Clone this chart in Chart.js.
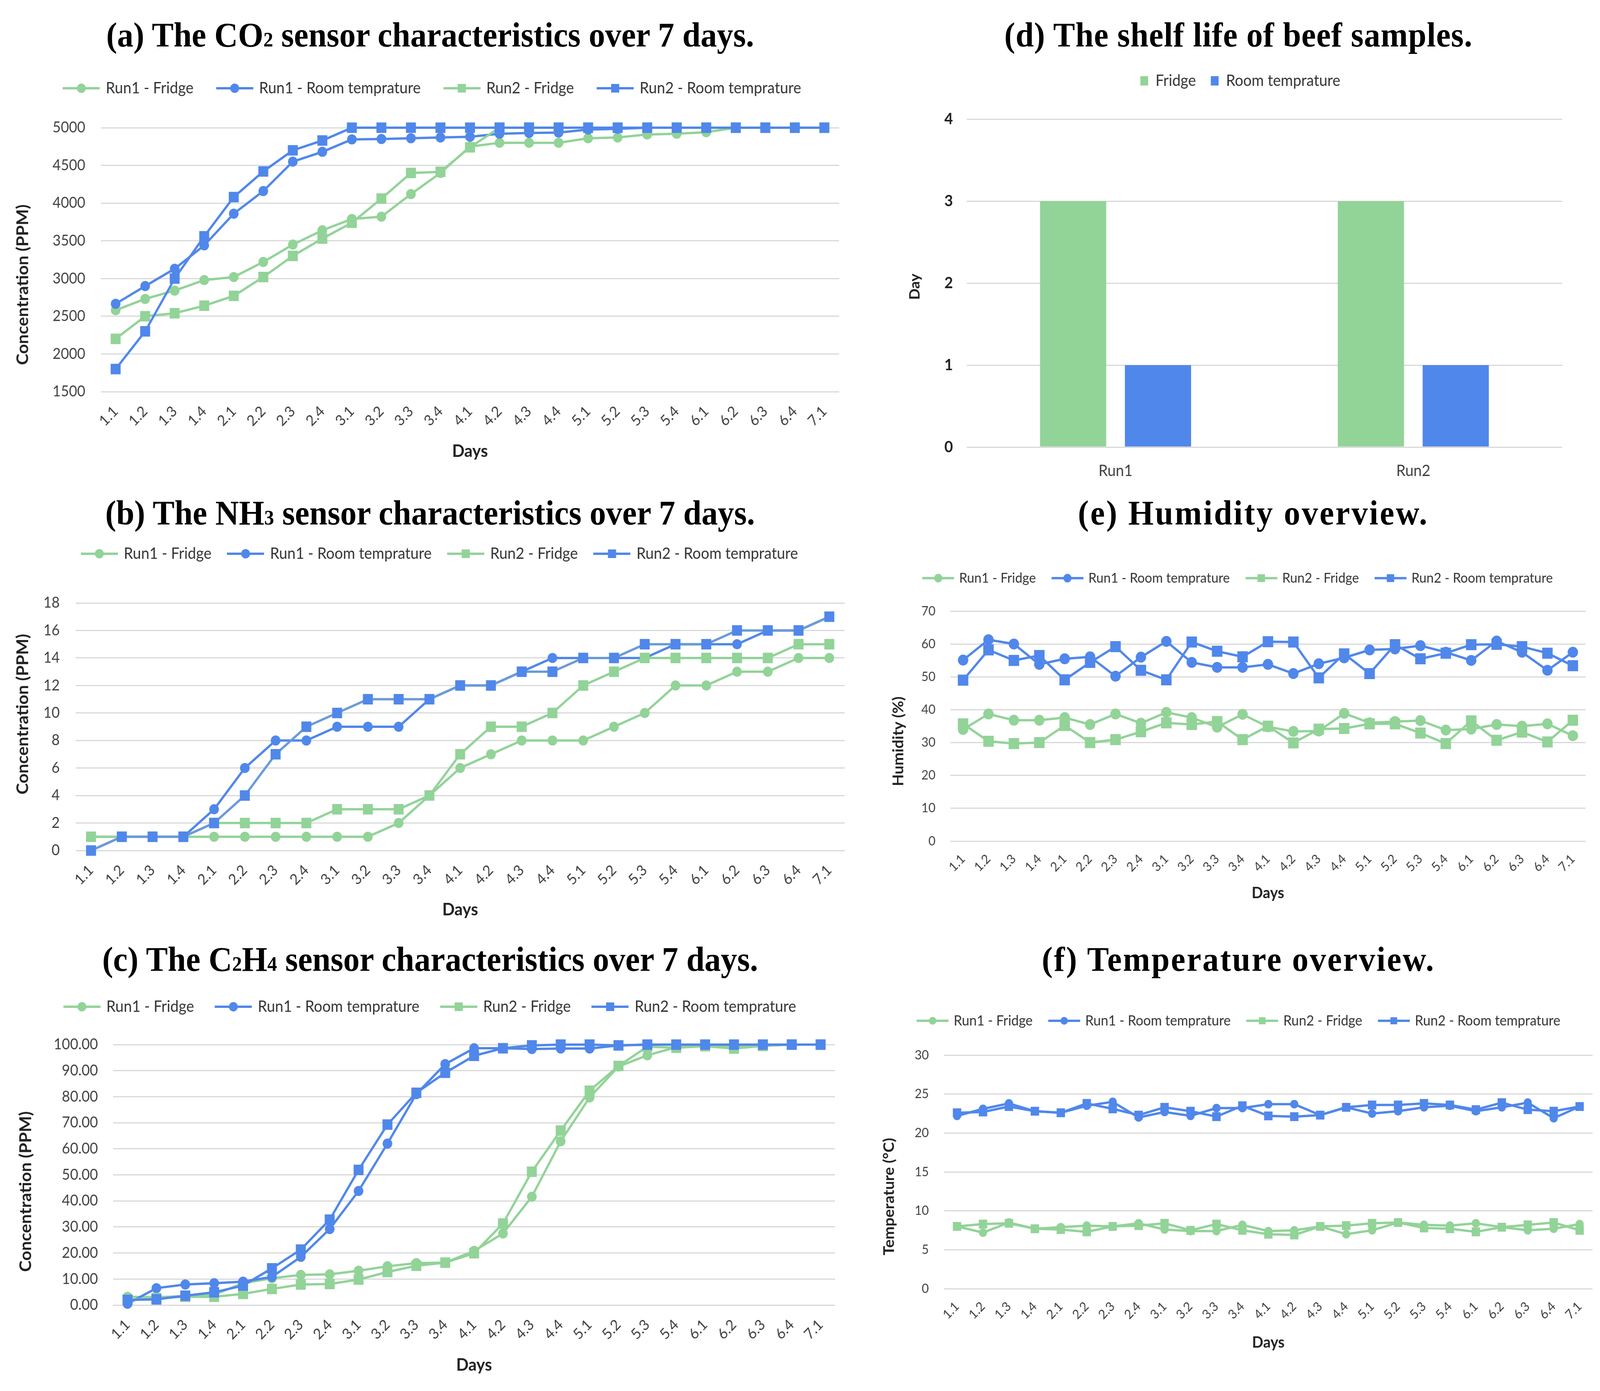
<!DOCTYPE html>
<html>
<head>
<meta charset="utf-8">
<script src="https://cdn.jsdelivr.net/npm/chart.js@4.4.1/dist/chart.umd.min.js"></script>
<style>
html, body { margin: 0; padding: 0; background: #fff; overflow: hidden; }
#stage { position: absolute; left: 0; top: 0; width: 4315px; height: 3562px; transform-origin: 0 0; }
canvas { position: absolute; }
.title { position: absolute; font-family: "Liberation Serif", serif; font-weight: bold; font-size: 88px; line-height: 88px;
  color: #000; white-space: nowrap; transform: translateX(-50%); }
.title sub { font-size: 0.6em; vertical-align: baseline; line-height: 0; }
</style>
</head>
<body>
<div id="stage">
<div class="title" style="left:1160px;top:46px">(a) The CO<sub>2</sub> sensor characteristics over 7 days.</div>
<div class="title" style="left:1160px;top:1270px">(b) The NH<sub>3</sub> sensor characteristics over 7 days.</div>
<div class="title" style="left:1160px;top:2413px">(c) The C<sub>2</sub>H<sub>4</sub> sensor characteristics over 7 days.</div>
<div class="title" style="left:3340px;top:46px;letter-spacing:1px">(d) The shelf life of beef samples.</div>
<div class="title" style="left:3380px;top:1270px;letter-spacing:4px">(e) Humidity overview.</div>
<div class="title" style="left:3340px;top:2413px;letter-spacing:3.5px">(f) Temperature overview.</div>

<canvas id="chartA" width="2300" height="1051" style="left:0;top:141px"></canvas>
<canvas id="chartB" width="2300" height="1014" style="left:0;top:1352px"></canvas>
<canvas id="chartC" width="2300" height="1034" style="left:0;top:2498px"></canvas>
<canvas id="chartD" width="1975" height="1103" style="left:2340px;top:147px"></canvas>
<canvas id="chartE" width="1975" height="904" style="left:2340px;top:1417px"></canvas>
<canvas id="chartF" width="1975" height="922" style="left:2340px;top:2550px"></canvas>
</div>

<script>
// sampling points: day.reading
const days = ['1.1', '1.2', '1.3', '1.4', '2.1', '2.2', '2.3', '2.4', '3.1', '3.2', '3.3', '3.4',
  '4.1', '4.2', '4.3', '4.4', '5.1', '5.2', '5.3', '5.4', '6.1', '6.2', '6.3', '6.4', '7.1'];
const seriesNames = ['Run1 - Fridge', 'Run1 - Room temprature', 'Run2 - Fridge', 'Run2 - Room temprature'];

// (a) CO2, PPM
const co2Run1Fridge = [2580, 2730, 2840, 2980, 3020, 3220, 3450, 3640, 3790, 3820, 4120, 4400,
  4750, 4800, 4800, 4800, 4860, 4870, 4910, 4920, 4940, 5000, 5000, 5000, 5000];
const co2Run1Room = [2665, 2900, 3130, 3440, 3860, 4160, 4550, 4680, 4845, 4850, 4860, 4870,
  4880, 4920, 4930, 4935, 4975, 4985, 5000, 5000, 5000, 5000, 5000, 5000, 5000];
const co2Run2Fridge = [2200, 2500, 2540, 2640, 2770, 3020, 3300, 3530, 3740, 4060, 4400, 4415,
  4740, 5000, 5000, 5000, 5000, 5000, 5000, 5000, 5000, 5000, 5000, 5000, 5000];
const co2Run2Room = [1800, 2300, 3000, 3560, 4080, 4420, 4700, 4830, 5000, 5000, 5000, 5000,
  5000, 5000, 5000, 5000, 5000, 5000, 5000, 5000, 5000, 5000, 5000, 5000, 5000];

// (b) NH3, PPM
const nh3Run1Fridge = [1, 1, 1, 1, 1, 1, 1, 1, 1, 1, 2, 4, 6, 7, 8, 8, 8, 9, 10, 12, 12, 13, 13, 14, 14];
const nh3Run1Room = [0, 1, 1, 1, 3, 6, 8, 8, 9, 9, 9, 11, 12, 12, 13, 14, 14, 14, 14, 15, 15, 15, 16, 16, 17];
const nh3Run2Fridge = [1, 1, 1, 1, 2, 2, 2, 2, 3, 3, 3, 4, 7, 9, 9, 10, 12, 13, 14, 14, 14, 14, 14, 15, 15];
const nh3Run2Room = [0, 1, 1, 1, 2, 4, 7, 9, 10, 11, 11, 11, 12, 12, 13, 13, 14, 14, 15, 15, 15, 16, 16, 16, 17];

// (c) C2H4, PPM
const c2h4Run1Fridge = [3.2, 3.0, 3.5, 4.0, 8.4, 10.3, 11.6, 11.8, 13.2, 14.9, 16.1, 16.3,
  20.8, 27.5, 41.6, 62.9, 79.7, 91.6, 95.9, 99.0, 99.4, 99.5, 99.5, 100, 100];
const c2h4Run1Room = [0.5, 6.5, 7.9, 8.4, 9.0, 10.8, 18.5, 29.2, 43.8, 62.0, 81.0, 92.5,
  98.6, 98.6, 98.3, 98.5, 98.5, 99.7, 100, 100, 100, 100, 100, 100, 100];
const c2h4Run2Fridge = [2.0, 2.7, 3.2, 3.2, 4.3, 6.2, 7.9, 8.1, 9.8, 12.7, 15.1, 16.3,
  19.9, 31.3, 51.2, 67.0, 82.3, 91.8, 99.2, 98.8, 99.4, 98.5, 99.5, 100, 100];
const c2h4Run2Room = [2.0, 2.2, 3.6, 4.9, 7.5, 14.1, 21.3, 32.8, 51.9, 69.3, 81.5, 89.2,
  95.7, 98.6, 99.7, 100, 100, 99.7, 100, 100, 100, 100, 100, 100, 100];

// (d) shelf life, days
const runs = ['Run1', 'Run2'];
const shelfFridge = [3, 3];
const shelfRoom = [1, 1];

// (e) humidity, %
const humRun1Fridge = [34.0, 38.7, 36.8, 36.8, 37.6, 35.5, 38.7, 35.9, 39.2, 37.6, 34.7, 38.6,
  34.8, 33.4, 33.5, 38.9, 36.0, 36.4, 36.7, 33.8, 34.1, 35.5, 35.0, 35.7, 32.1];
const humRun1Room = [55.1, 61.3, 60.0, 53.8, 55.5, 56.1, 50.2, 56.0, 60.8, 54.4, 52.9, 52.9,
  53.8, 51.0, 54.0, 55.8, 58.2, 58.5, 59.5, 57.5, 55.0, 60.9, 57.5, 52.0, 57.5];
const humRun2Fridge = [35.7, 30.4, 29.7, 30.0, 35.2, 30.0, 30.9, 33.3, 36.0, 35.5, 36.4, 30.9,
  35.0, 29.9, 34.1, 34.3, 35.7, 35.7, 32.9, 29.7, 36.6, 30.7, 33.2, 30.2, 36.8];
const humRun2Room = [49.0, 58.2, 55.0, 56.5, 49.1, 54.4, 59.2, 52.0, 49.1, 60.6, 57.8, 56.1,
  60.7, 60.6, 49.7, 57.0, 51.0, 59.8, 55.5, 57.2, 59.8, 59.9, 59.2, 57.2, 53.4];

// (f) temperature, degC
const tempRun1Fridge = [8.0, 7.2, 8.5, 7.7, 7.9, 8.1, 8.0, 8.4, 7.6, 7.4, 7.4, 8.2,
  7.4, 7.5, 8.0, 7.0, 7.5, 8.5, 8.2, 8.1, 8.4, 7.9, 7.5, 7.7, 8.3];
const tempRun1Room = [22.2, 23.1, 23.8, 22.8, 22.6, 23.5, 24.0, 22.0, 22.7, 22.2, 23.2, 23.2,
  23.7, 23.7, 22.3, 23.3, 22.5, 22.8, 23.3, 23.5, 22.8, 23.3, 23.9, 21.9, 23.4];
const tempRun2Fridge = [8.0, 8.3, 8.4, 7.7, 7.6, 7.3, 8.0, 8.1, 8.4, 7.5, 8.3, 7.5,
  7.0, 6.9, 8.0, 8.1, 8.4, 8.5, 7.8, 7.7, 7.3, 7.9, 8.2, 8.5, 7.5];
const tempRun2Room = [22.6, 22.7, 23.4, 22.8, 22.6, 23.8, 23.1, 22.3, 23.3, 22.8, 22.1, 23.5,
  22.2, 22.1, 22.3, 23.3, 23.6, 23.6, 23.8, 23.6, 23.0, 23.9, 23.0, 22.8, 23.4];

const GREEN = '#92D398';
const BLUE = '#5087EA';

// the real viewport is narrower than 4315, so squeeze the layout to fit it
const stage = document.getElementById('stage');
const vw = window.innerWidth, vh = window.innerHeight;
if (vw > 100 && vh > 100) stage.style.transform = 'scale(' + (vw / 4315) + ',' + (vh / 3562) + ')';

Chart.defaults.font.family = 'Lato';
Chart.defaults.color = '#404040';
Chart.defaults.animation = false;

// line + marker picture for the legend
function legendMark(color, style, w, r) {
  const c = document.createElement('canvas');
  c.width = w;
  c.height = 2 * r + 4;
  const g = c.getContext('2d');
  g.strokeStyle = color;
  g.lineWidth = 6;
  g.beginPath();
  g.moveTo(0, c.height / 2);
  g.lineTo(w, c.height / 2);
  g.stroke();
  g.fillStyle = color;
  if (style === 'circle') {
    g.beginPath();
    g.arc(w / 2, c.height / 2, r, 0, Math.PI * 2);
    g.fill();
  } else {
    g.fillRect(w / 2 - r, c.height / 2 - r, 2 * r, 2 * r);
  }
  return c;
}

// force the legend box height so the plot top lands where it should
function legendBox(h) {
  return {
    id: 'legendBox',
    beforeInit(chart) {
      const fit = chart.legend.fit;
      chart.legend.fit = function () { fit.call(this); this.height = h; };
    }
  };
}

// pad a rotated axis title with spaces to move it along the axis (+ = down)
function shiftTitle(text, n) {
  return n > 0 ? text + ' '.repeat(n) : ' '.repeat(-n) + text;
}

function lineChart(id, data, o) {
  const colors = [GREEN, BLUE, GREEN, BLUE];
  const styles = ['circle', 'circle', 'rect', 'rect'];
  const lineColors = o.lineColors || colors;
  const marks = colors.map((c, i) => legendMark(c, styles[i], o.markW, styles[i] === 'circle' ? o.markR : o.markR - 1));
  new Chart(document.getElementById(id), {
    type: 'line',
    data: {
      labels: days,
      datasets: data.map((d, i) => ({
        label: seriesNames[i],
        data: d,
        borderColor: lineColors[i],
        backgroundColor: colors[i],
        pointBackgroundColor: colors[i],
        pointBorderColor: colors[i],
        pointBorderWidth: 0,
        pointStyle: styles[i],
        pointRadius: styles[i] === 'circle' ? o.pointR : o.rectR,
        borderWidth: 6,
        tension: 0,
        clip: false,
        order: 3 - i
      }))
    },
    options: {
      responsive: false,
      events: [],
      layout: { padding: { left: o.padLeft, right: o.padRight, top: 0, bottom: 0 } },
      plugins: {
        tooltip: { enabled: false },
        legend: {
          position: 'top',
          labels: {
            usePointStyle: true,
            pointStyleWidth: o.markW - 8,
            padding: o.legendPad,
            color: '#333',
            font: { size: o.legendFont },
            sort: (a, b) => a.datasetIndex - b.datasetIndex,
            generateLabels(chart) {
              const items = Chart.defaults.plugins.legend.labels.generateLabels(chart);
              items.forEach(it => { it.pointStyle = marks[it.datasetIndex]; });
              return items;
            }
          }
        }
      },
      scales: {
        x: {
          offset: true,
          grid: { display: false },
          border: { display: false },
          ticks: { autoSkip: false, minRotation: 45, maxRotation: 45, padding: o.xTickPad, font: { size: o.tickFont } },
          title: { display: true, text: 'Days', color: '#222', font: { size: o.titleFont, weight: 'bold' },
            padding: { top: 0, bottom: o.xTitlePad } },
          afterFit(s) { s.height = o.xHeight; }
        },
        y: {
          min: o.min,
          max: o.max,
          grid: { color: '#D9D9D9', lineWidth: 3, drawTicks: false },
          border: { display: false },
          ticks: { stepSize: o.step, padding: o.yPad, font: { size: o.tickFont }, callback: o.fmt },
          title: { display: true, text: shiftTitle(o.yTitle, o.yShift), color: '#222', font: { size: o.titleFont, weight: 'bold' },
            padding: { top: o.yTitlePad, bottom: 0 } },
          afterFit(s) { s.width = o.yWidth; }
        }
      }
    },
    plugins: [legendBox(o.legendH)]
  });
}

lineChart('chartA', [co2Run1Fridge, co2Run1Room, co2Run2Fridge, co2Run2Room], {
  min: 1500, max: 5000, step: 500, fmt: v => String(v), yTitle: 'Concentration (PPM)', yShift: 12,
  legendH: 186, legendPad: 65, legendFont: 40, markW: 100, markR: 12, pointR: 13, rectR: 19,
  padLeft: 71, yWidth: 201, yPad: 42, yTitlePad: -36, xHeight: 189, xTickPad: 20, xTitlePad: 10,
  padRight: 37, tickFont: 38, titleFont: 44
});

lineChart('chartB', [nh3Run1Fridge, nh3Run1Room, nh3Run2Fridge, nh3Run2Room], {
  min: 0, max: 18, step: 2, fmt: v => String(v), yTitle: 'Concentration (PPM)', yShift: -6,
  lineColors: [GREEN, BLUE, GREEN, '#6B9AD8'],
  legendH: 192, legendPad: 46, legendFont: 40, markW: 100, markR: 12, pointR: 13, rectR: 19,
  padLeft: 96, yWidth: 108, yPad: 43, yTitlePad: -61, xHeight: 188, xTickPad: 20, xTitlePad: 10,
  padRight: 22, tickFont: 38, titleFont: 44
});

lineChart('chartC', [c2h4Run1Fridge, c2h4Run1Room, c2h4Run2Fridge, c2h4Run2Room], {
  min: 0, max: 100, step: 10, fmt: v => v.toFixed(2), yTitle: 'Concentration (PPM)', yShift: 8,
  legendH: 177, legendPad: 60, legendFont: 40, markW: 100, markR: 12, pointR: 13, rectR: 19,
  padLeft: 70, yWidth: 235, yPad: 41, yTitlePad: -27, xHeight: 190, xTickPad: 20, xTitlePad: 10,
  padRight: 48, tickFont: 38, titleFont: 44
});

lineChart('chartE', [humRun1Fridge, humRun1Room, humRun2Fridge, humRun2Room], {
  min: 0, max: 70, step: 10, fmt: v => String(v), yTitle: 'Humidity (%)', yShift: 8,
  legendH: 148, legendPad: 46, legendFont: 35, markW: 86, markR: 11, pointR: 14, rectR: 20,
  padLeft: 63, yWidth: 160, yPad: 40, yTitlePad: -4, xHeight: 167, xTickPad: 18, xTitlePad: 10,
  padRight: 39, tickFont: 33, titleFont: 40
});

lineChart('chartF', [tempRun1Fridge, tempRun1Room, tempRun2Fridge, tempRun2Room], {
  min: 0, max: 30, step: 5, fmt: v => String(v), yTitle: 'Temperature (°C)', yShift: 13,
  legendH: 152, legendPad: 46, legendFont: 36, markW: 86, markR: 10, pointR: 11, rectR: 16,
  padLeft: 49, yWidth: 157, yPad: 41, yTitlePad: -15, xHeight: 172, xTickPad: 18, xTitlePad: 10,
  padRight: 20, tickFont: 33, titleFont: 40
});

// (d) bar chart
new Chart(document.getElementById('chartD'), {
  type: 'bar',
  data: {
    labels: runs,
    datasets: [
      { label: 'Fridge', data: shelfFridge, backgroundColor: GREEN, categoryPercentage: 0.57, barPercentage: 0.78 },
      { label: 'Room temprature', data: shelfRoom, backgroundColor: BLUE, categoryPercentage: 0.57, barPercentage: 0.78 }
    ]
  },
  options: {
    responsive: false,
    events: [],
    layout: { padding: { left: 137, right: 102, top: 0, bottom: 0 } },
    plugins: {
      tooltip: { enabled: false },
      legend: {
        position: 'top',
        labels: { boxWidth: 21, boxHeight: 24, padding: 40, color: '#333', font: { size: 40 } }
      }
    },
    scales: {
      x: {
        grid: { display: false },
        border: { display: false },
        ticks: { padding: 29, font: { size: 40 } },
        afterFit(s) { s.height = 105; }
      },
      y: {
        min: 0,
        max: 4,
        grid: { color: '#D9D9D9', lineWidth: 3, drawTicks: false },
        border: { display: false },
        ticks: { stepSize: 1, padding: 37, font: { size: 40, weight: 'bold' }, color: '#222' },
        title: { display: true, text: shiftTitle('Day', 2), color: '#222', font: { size: 38, weight: 'bold' }, padding: { top: -32, bottom: 0 } },
        afterFit(s) { s.width = 130; }
      }
    }
  },
  plugins: [legendBox(158)]
});
</script>
</body>
</html>
